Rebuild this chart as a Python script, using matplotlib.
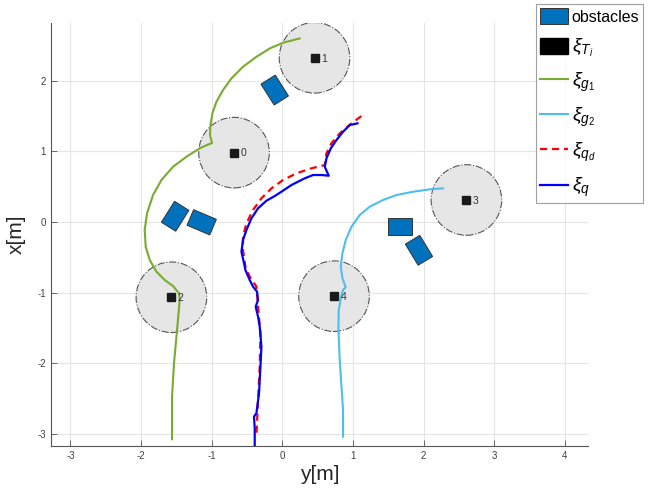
import matplotlib
matplotlib.use("Agg")
import matplotlib.pyplot as plt
import numpy as np
from matplotlib.patches import Circle, Polygon, Patch
from matplotlib.lines import Line2D

plt.rcParams["font.family"] = ["Liberation Sans", "DejaVu Sans"]
plt.rcParams["mathtext.fontset"] = "custom"
plt.rcParams["mathtext.rm"] = "Liberation Sans"
plt.rcParams["mathtext.it"] = "Liberation Sans:italic"
plt.rcParams["axes.unicode_minus"] = False

# target areas: centre (y, x), radius 0.5
target_ids = [0, 1, 2, 3, 4]
target_y = [-0.684, 0.456, -1.571, 2.607, 0.732]
target_x = [0.983, 2.327, -1.066, 0.312, -1.051]
target_r = 0.5

# obstacles: centre (y, x), heading of the long side in degrees
obs_y = [-0.108, -1.518, -1.142, 1.666, 1.935]
obs_x = [1.870, 0.081, -0.004, -0.061, -0.401]
obs_ang = [-57.7, 57.8, -23.0, 0.0, -58.8]
obs_len, obs_wid = 0.35, 0.24

# goal trajectories
g1_y = [-1.562, -1.562, -1.534, -1.491, -1.453, -1.463, -1.548, -1.666, -1.783, -1.878,
        -1.935, -1.949, -1.916, -1.831, -1.712, -1.548, -1.358, -1.170, -1.052,
        -0.996, -1.024, -1.018, -0.990, -0.933, -0.840, -0.721, -0.557, -0.367,
        -0.178, 0.010, 0.246]
g1_x = [-3.078, -2.474, -2.001, -1.530, -1.105, -1.010, -0.907, -0.822, -0.704, -0.538,
        -0.350, -0.113, 0.123, 0.382, 0.595, 0.783, 0.925, 1.044, 1.098,
        1.119, 1.232, 1.374, 1.540, 1.704, 1.870, 2.035, 2.200, 2.341,
        2.460, 2.540, 2.602]
g2_y = [2.276, 2.088, 1.851, 1.616, 1.426, 1.238, 1.096, 0.979, 0.898, 0.851,
        0.827, 0.851, 0.898, 0.860, 0.837, 0.799, 0.795, 0.813, 0.841, 0.860, 0.860]
g2_x = [0.477, 0.463, 0.429, 0.382, 0.312, 0.217, 0.099, -0.067, -0.255, -0.443,
        -0.633, -0.797, -0.925, -0.963, -1.034, -1.246, -1.530, -1.955, -2.380, -2.663, -3.041]

# desired and actual robot path
qd_y = [1.120, 0.979, 0.813, 0.695, 0.625, 0.601, 0.412, 0.200, 0.010, -0.154,
        -0.296, -0.415, -0.508, -0.557, -0.557, -0.523, -0.462, -0.367, -0.344, -0.310,
        -0.320, -0.344, -0.367]
qd_x = [1.501, 1.398, 1.256, 1.115, 0.973, 0.807, 0.761, 0.690, 0.595, 0.477,
        0.336, 0.170, -0.018, -0.208, -0.397, -0.633, -0.775, -0.916, -1.200, -1.577,
        -2.050, -2.521, -3.040]
q_y = [1.064, 0.955, 0.860, 0.766, 0.686, 0.625, 0.601, 0.657, 0.554, 0.435,
       0.317, 0.129, -0.013, -0.108, -0.225, -0.344, -0.438, -0.508, -0.557, -0.579,
       -0.542, -0.523, -0.462, -0.415, -0.358, -0.344, -0.377, -0.344, -0.320, -0.296,
       -0.310, -0.330, -0.367, -0.401, -0.391, -0.391]
q_x = [1.398, 1.374, 1.279, 1.161, 1.044, 0.902, 0.783, 0.656, 0.666, 0.666,
       0.619, 0.524, 0.429, 0.368, 0.302, 0.194, 0.052, -0.113, -0.255, -0.421,
       -0.585, -0.680, -0.822, -0.916, -0.987, -1.105, -1.200, -1.341, -1.483, -1.766,
       -2.050, -2.426, -2.710, -2.758, -2.922, -3.183]

GREEN = "#77AC30"
LBLUE = "#4DBEEE"
OBS = "#0072BD"
DASH = (0, (3.2, 2.2))

fig = plt.figure(figsize=(6.63, 4.96), dpi=100)
ax = fig.add_axes([0.0765, 0.1014, 0.8105, 0.8522])

for i, cy, cx in zip(target_ids, target_y, target_x):
    ax.add_patch(Circle((cy, cx), target_r, facecolor="#e6e6e6", edgecolor="#555555",
                        lw=0.8, ls="-.", zorder=1))
    ax.plot(cy, cx, "s", color="#1a1a1a", ms=6, zorder=5)
    ax.text(cy + 0.09, cx - 0.01, str(i), fontsize=7.5, color="#333333",
            va="center", ha="left", zorder=5)

for cy, cx, a in zip(obs_y, obs_x, obs_ang):
    t = np.deg2rad(a)
    u = np.array([np.cos(t), np.sin(t)]) * obs_len / 2
    v = np.array([-np.sin(t), np.cos(t)]) * obs_wid / 2
    c = np.array([cy, cx])
    pts = [c - u - v, c + u - v, c + u + v, c - u + v]
    ax.add_patch(Polygon(pts, closed=True, facecolor=OBS, edgecolor="#333333", lw=0.7, zorder=3))

ax.plot(g1_y, g1_x, color=GREEN, lw=1.5, zorder=4)
ax.plot(g2_y, g2_x, color=LBLUE, lw=1.5, zorder=4)
ax.plot(qd_y, qd_x, color="red", lw=1.6, ls=DASH, zorder=4)
ax.plot(q_y, q_x, color="blue", lw=1.6, zorder=4)

ax.set_xlim(-3.28, 4.33)
ax.set_ylim(-3.17, 2.82)
ax.set_xticks(range(-3, 5))
ax.set_yticks(range(-3, 3))
ax.grid(True, color="#e5e5e5", lw=0.8)
ax.set_axisbelow(True)
for s in ("top", "right"):
    ax.spines[s].set_visible(False)
for s in ("left", "bottom"):
    ax.spines[s].set_color("#555555")
    ax.spines[s].set_linewidth(0.8)
ax.tick_params(direction="in", length=4, width=0.6, color="#555555",
               labelsize=7, labelcolor="#404040")
ax.set_xlabel("y[m]", fontsize=15, color="#262626", labelpad=3)
ax.set_ylabel("x[m]", fontsize=15, color="#262626", labelpad=8)

handles = [
    Patch(facecolor=OBS, edgecolor="#333333", lw=0.7),
    Patch(facecolor="black", edgecolor="black"),
    Line2D([], [], color=GREEN, lw=1.5),
    Line2D([], [], color=LBLUE, lw=1.5),
    Line2D([], [], color="red", lw=1.6, ls=DASH),
    Line2D([], [], color="blue", lw=1.6),
]
labels = ["obstacles", r"$\xi_{T_i}$", r"$\xi_{g_1}$", r"$\xi_{g_2}$", r"$\xi_{q_d}$", r"$\xi_{q}$"]
leg = fig.legend(handles, labels, loc="upper left", bbox_to_anchor=(0.809, 0.992),
                 fontsize=11.5, frameon=True, fancybox=False, edgecolor="#888888",
                 handlelength=1.75, handleheight=1.2, handletextpad=0.2,
                 labelspacing=0.75, borderpad=0.25, borderaxespad=0)
leg.get_frame().set_linewidth(0.8)
for t in leg.get_texts()[1:]:
    t.set_fontsize(14)

fig.savefig("out.png", dpi=100)
